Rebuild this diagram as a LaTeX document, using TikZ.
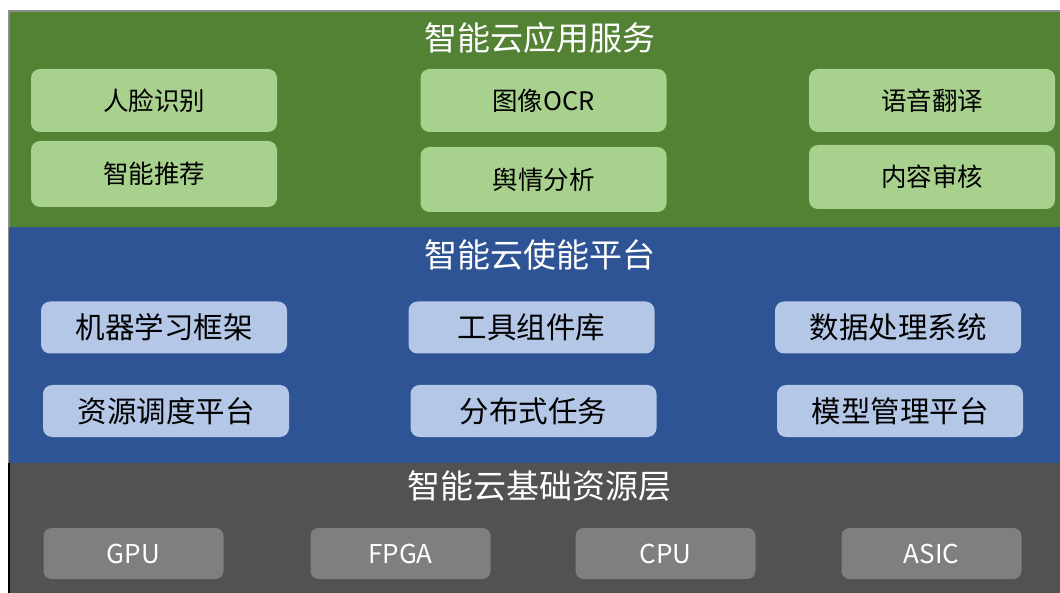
\documentclass[tikz,border=0pt]{standalone}
\usepackage{fontspec}
\setmainfont{Noto Sans CJK SC}
\newfontfamily\cjk{Noto Sans CJK SC}
\definecolor{lgreen}{HTML}{548235}
\definecolor{lgreenbox}{HTML}{A9D18E}
\definecolor{lblue}{HTML}{2E5495}
\definecolor{lbluebox}{HTML}{B4C7E7}
\definecolor{lgray}{HTML}{525252}
\definecolor{lgraybox}{HTML}{7F7F7F}
\tikzset{
  layer/.style={anchor=north west, inner sep=0pt, outer sep=0pt},
  ltitle/.style={text=white, font=\cjk\fontsize{33}{36}\selectfont, inner sep=0pt},
  gbox/.style={fill=lgreenbox, rounded corners=9pt, minimum width=246pt, text=black,
    font=\cjk\fontsize{25.5}{28}\selectfont, inner sep=0pt},
  bbox/.style={fill=lbluebox, rounded corners=9pt, minimum width=246pt, minimum height=52pt, text=black,
    font=\cjk\fontsize{29.5}{32}\selectfont, inner sep=0pt},
  hbox/.style={fill=lgraybox, rounded corners=8pt, minimum width=180pt, minimum height=51pt, text=white,
    font=\cjk\fontsize{26}{29}\selectfont, inner sep=0pt},
}
\begin{document}
\begin{tikzpicture}[x=1pt,y=-1pt]
\useasboundingbox (0,0) rectangle (1060,593);
% layers
\fill[lgreen] (9,11) rectangle (1060,227);
\draw[gray!90, line width=1.5pt] (9,593) -- (9,11) -- (1060,11);
\fill[lblue] (9,227) rectangle (1060,463);
\fill[lgray] (9,463) rectangle (1060,593);
\draw[black, line width=1.2pt] (9,463) -- (9,593);
% titles
\node[ltitle] (t1) at (540,38) {智能云应用服务};
\node[ltitle] (t2) at (540,255) {智能云使能平台};
\node[ltitle] (t3) at (539,486) {智能云基础资源层};
% green boxes
\node[gbox, minimum height=63pt] (a1) at (154,100.5) {人脸识别};
\node[gbox, minimum height=66pt] (a2) at (154,174) {智能推荐};
\node[gbox, minimum height=63pt] (a3) at (543.5,100.5) {图像OCR};
\node[gbox, minimum height=65pt] (a4) at (543.5,179.5) {舆情分析};
\node[gbox, minimum height=63pt] (a5) at (932,100.5) {语音翻译};
\node[gbox, minimum height=64pt] (a6) at (932,177) {内容审核};
% blue boxes
\node[bbox] (b1) at (164,327.5) {机器学习框架};
\node[bbox] (b2) at (531.5,327.5) {工具组件库};
\node[bbox] (b3) at (898,327.5) {数据处理系统};
\node[bbox] (b4) at (166,411) {资源调度平台};
\node[bbox] (b5) at (533.5,411) {分布式任务};
\node[bbox] (b6) at (900,411) {模型管理平台};
% gray boxes
\node[hbox] (c1) at (133.5,553.5) {GPU};
\node[hbox] (c2) at (400.5,553.5) {FPGA};
\node[hbox] (c3) at (665.5,553.5) {CPU};
\node[hbox] (c4) at (931.5,553.5) {ASIC};
\end{tikzpicture}
\end{document}
